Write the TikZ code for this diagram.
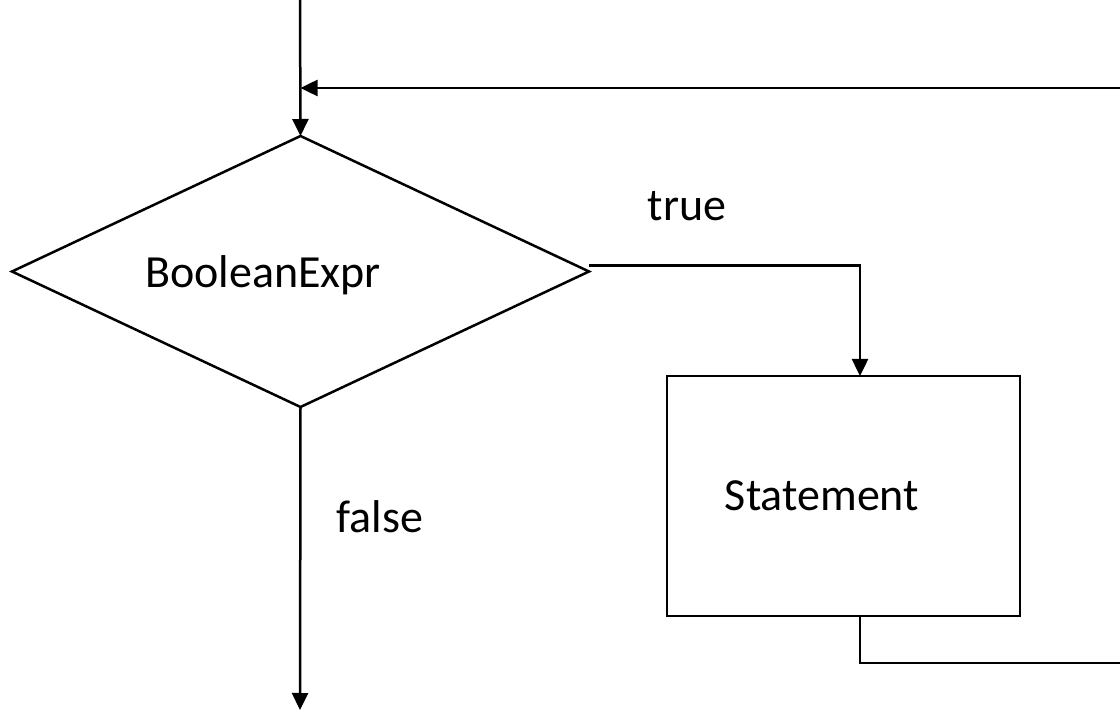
\documentclass[tikz,border=0pt]{standalone}
\usepackage{fontspec}
\setmainfont{Carlito}
\usetikzlibrary{arrows.meta,shapes.geometric}
\tikzset{
  ln/.style={line width=2.5pt},
  arr/.style={ln,-{Triangle[length=17pt,width=16pt]}},
  txt/.style={anchor=base,inner sep=0pt,font=\fontsize{46}{55}\selectfont}
}
\begin{document}
\begin{tikzpicture}[x=1pt,y=-1pt]
  \useasboundingbox (0,0) rectangle (1120,711);
  \node[ln,draw,diamond,minimum width=577pt,minimum height=271pt,inner sep=0pt,outer sep=0pt] (cond) at (300.5,271.5) {};
  \node[ln,draw,rectangle,minimum width=353pt,minimum height=240pt,inner sep=0pt,outer sep=0pt] (stmt) at (843.5,496) {};
  \node[txt] (condtext) at (263,288) {BooleanExpr};
  \node[txt] (stmttext) at (822,510) {Statement};
  \node[txt] (truetext) at (687,221) {true};
  \node[txt] (falsetext) at (380,532) {false};
  \coordinate (start) at (300,0);
  \coordinate (stop) at (300,710);
  \coordinate (loopin) at (1120,88);
  \coordinate (loopout) at (1120,663);
  \draw[arr] (start) -- (cond.north);
  \draw[arr] (loopin) -- (cond.north |- loopin);
  \draw[arr] ([yshift=6pt]cond.east) -| ([xshift=16.5pt]stmt.north);
  \draw[ln] ([xshift=16.5pt]stmt.south) |- (loopout);
  \draw[arr] (cond.south) -- (stop);
\end{tikzpicture}
\end{document}
